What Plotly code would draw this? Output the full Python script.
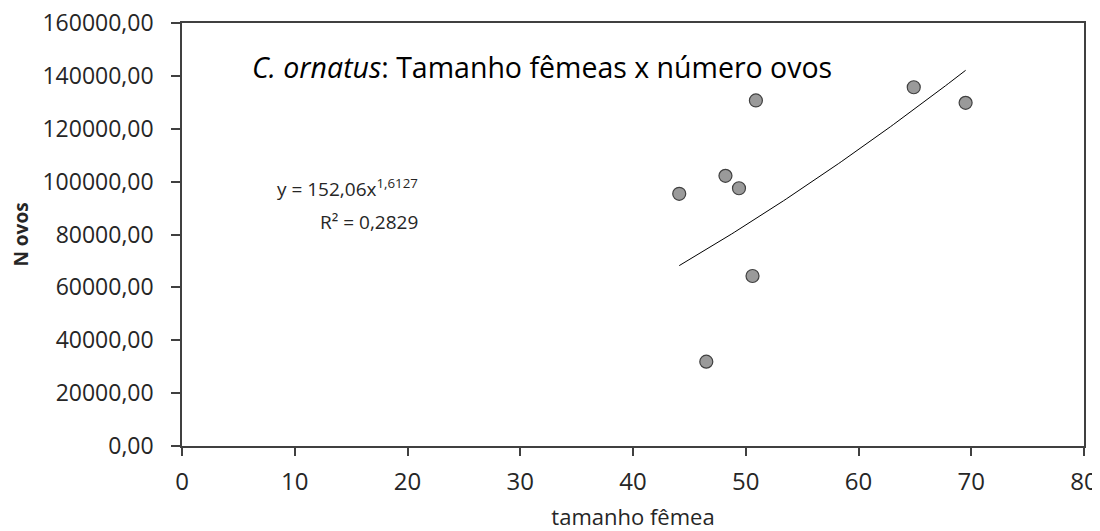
import plotly.graph_objects as go
import numpy as np

# Data
tamanho = [44.1, 46.5, 48.2, 49.4, 50.6, 50.9, 64.9, 69.5]
n_ovos = [95400, 31900, 102200, 97500, 64300, 130700, 135700, 129800]

# Power trendline coefficients shown on chart
coef_a = 152.06
coef_b = 1.6127

x_ticks = [0, 10, 20, 30, 40, 50, 60, 70, 80]
y_ticks = [0, 20000, 40000, 60000, 80000, 100000, 120000, 140000, 160000]
y_ticklabels = ["0,00", "20000,00", "40000,00", "60000,00", "80000,00",
                "100000,00", "120000,00", "140000,00", "160000,00"]

title_text = "<i>C. ornatus</i>: Tamanho fêmeas x número ovos"
eq_text = "y = 152,06x<sup>1,6127</sup>"
r2_text = "R² = 0,2829"

FONT = "Open Sans"
TXT = "#262626"

xs = np.linspace(min(tamanho), max(tamanho), 100)
ys = coef_a * xs ** coef_b

fig = go.Figure()
fig.add_trace(go.Scatter(x=xs, y=ys, mode="lines",
                         line=dict(color="black", width=1), showlegend=False,
                         hoverinfo="skip"))
fig.add_trace(go.Scatter(x=tamanho, y=n_ovos, mode="markers",
                         marker=dict(size=13, color="#9a9a9a",
                                     line=dict(color="#404040", width=1.2)),
                         showlegend=False))

fig.update_layout(
    width=1092, height=523,
    margin=dict(l=174, r=16, t=15, b=85),
    paper_bgcolor="white", plot_bgcolor="white",
    font=dict(family=FONT, color=TXT, size=20),
    xaxis=dict(range=[0, 80], tickvals=x_ticks, ticktext=[str(v) for v in x_ticks],
               automargin=False, ticklabeloverflow="allow",
               showgrid=False, zeroline=False, showline=True, mirror=True,
               linecolor="#404040", linewidth=1.5, ticks="outside", ticklen=8,
               tickcolor="#404040", tickwidth=1.5, ticklabelstandoff=5,
               tickfont=dict(size=24, color=TXT),
               title=dict(text="tamanho fêmea", font=dict(size=22, color=TXT), standoff=18)),
    yaxis=dict(range=[0, 160000], tickvals=y_ticks, ticktext=y_ticklabels,
               automargin=False, ticklabeloverflow="allow",
               showgrid=False, zeroline=False, showline=True, mirror=True,
               linecolor="#404040", linewidth=1.5, ticks="outside", ticklen=9,
               tickcolor="#404040", tickwidth=1.5, ticklabelstandoff=13,
               tickfont=dict(size=23, color=TXT),
               title=dict(text="<b>N ovos</b>", font=dict(size=19, color=TXT), standoff=14)),
    annotations=[
        dict(text=title_text, x=(250 - 182) / 902, y=(446 - 67) / 423, xref="paper", yref="paper",
             xanchor="left", yanchor="middle", showarrow=False,
             font=dict(size=28.5, color="black")),
        dict(text=eq_text, x=(420 - 182) / 902, y=(446 - 188) / 423, xref="paper", yref="paper",
             xanchor="right", yanchor="middle", showarrow=False,
             font=dict(size=19, color=TXT)),
        dict(text=r2_text, x=(420 - 182) / 902, y=(446 - 222) / 423, xref="paper", yref="paper",
             xanchor="right", yanchor="middle", showarrow=False,
             font=dict(size=19, color=TXT)),
    ],
)

fig.write_html("out.html")
